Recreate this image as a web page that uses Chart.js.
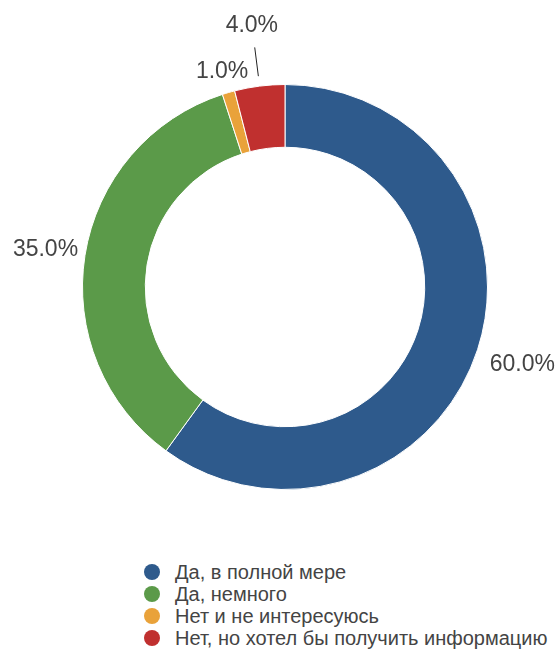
<!DOCTYPE html>
<html>
<head>
<meta charset="utf-8">
<script src="https://cdn.jsdelivr.net/npm/chart.js@4"></script>
<style>
  body { margin: 0; background: #fff; font-family: "Liberation Sans", Arial, sans-serif; }
  #wrap { position: relative; width: 559px; height: 651px; }
  #chart { position: absolute; left: 0; top: 0; }
  #legend { position: absolute; left: 144px; top: 561px; color: #444; font-size: 20px; }
  .item { display: flex; align-items: center; height: 22px; }
  .dot { width: 16px; height: 16px; border-radius: 50%; margin-right: 15px; flex: none; }
</style>
</head>
<body>
<div id="wrap">
  <canvas id="chart" width="559" height="530"></canvas>
  <div id="legend"></div>
</div>
<script>
const categories = ['Да, в полной мере', 'Да, немного', 'Нет и не интересуюсь', 'Нет, но хотел бы получить информацию'];
const values = [60.0, 35.0, 1.0, 4.0];
const colors = ['#2e5a8c', '#5b9a49', '#e9a23a', '#c0302f'];

// label distance outside the ring, per slice; long ones get a leader line
const labelGap = [47, 40, 23, 62];

const outsideLabels = {
    id: 'outsideLabels',
    afterDatasetsDraw(chart) {
        const ctx = chart.ctx;
        const arcs = chart.getDatasetMeta(0).data;
        ctx.save();
        ctx.font = '23px "Liberation Sans", Arial, sans-serif';
        ctx.fillStyle = '#444';
        ctx.textAlign = 'center';
        ctx.textBaseline = 'middle';
        arcs.forEach((arc, i) => {
            const p = arc.getProps(['x', 'y', 'startAngle', 'endAngle', 'outerRadius'], true);
            const mid = (p.startAngle + p.endAngle) / 2;
            const r = p.outerRadius + labelGap[i];
            if (labelGap[i] > 50) {
                ctx.strokeStyle = '#222';
                ctx.lineWidth = 1;
                ctx.beginPath();
                ctx.moveTo(p.x + Math.cos(mid) * (p.outerRadius + 10), p.y + Math.sin(mid) * (p.outerRadius + 10));
                ctx.lineTo(p.x + Math.cos(mid) * (p.outerRadius + 39), p.y + Math.sin(mid) * (p.outerRadius + 39));
                ctx.stroke();
            }
            ctx.fillText(values[i].toFixed(1) + '%', p.x + Math.cos(mid) * r, p.y + Math.sin(mid) * r + 1);
        });
        ctx.restore();
    }
};

new Chart(document.getElementById('chart'), {
    type: 'doughnut',
    data: {
        labels: categories,
        datasets: [{
            data: values,
            backgroundColor: colors,
            borderColor: '#ffffff',
            borderWidth: 1
        }]
    },
    options: {
        responsive: false,
        animation: false,
        cutout: '69%',
        layout: { padding: { top: 84, bottom: 40, left: 82, right: 71 } },
        plugins: {
            legend: { display: false },
            tooltip: { enabled: false }
        }
    },
    plugins: [outsideLabels]
});

const legend = document.getElementById('legend');
categories.forEach((name, i) => {
    const row = document.createElement('div');
    row.className = 'item';
    const dot = document.createElement('span');
    dot.className = 'dot';
    dot.style.background = colors[i];
    const txt = document.createElement('span');
    txt.textContent = name;
    row.appendChild(dot);
    row.appendChild(txt);
    legend.appendChild(row);
});
</script>
</body>
</html>
